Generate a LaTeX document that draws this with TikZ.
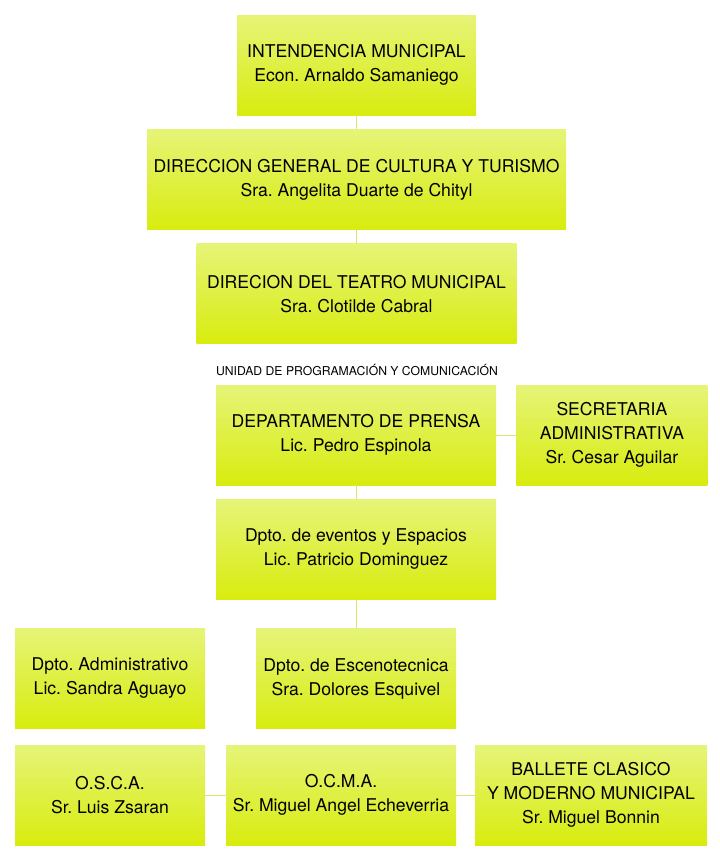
\documentclass[tikz,border=0pt]{standalone}
\usepackage{fontspec}
\setmainfont{TeX Gyre Heros}
\frenchspacing
\usetikzlibrary{positioning}
\definecolor{boxtop}{RGB}{230,244,120}
\definecolor{boxfill}{RGB}{216,236,14}
\definecolor{linkcol}{RGB}{214,232,112}
\tikzstyle{unit}=[rectangle, top color=boxtop, middle color=boxfill, bottom color=boxfill,
  draw=none, minimum height=100pt, inner sep=0pt, align=center,
  font=\fontsize{17.6}{24}\selectfont]
\tikzstyle{link}=[draw=linkcol, line width=1pt]

\begin{document}
\begin{tikzpicture}[x=1pt,y=-1pt]
    \useasboundingbox (0,0) rectangle (720,855);
    \node [unit, minimum width=239pt] (int) at (356.5,65) {INTENDENCIA MUNICIPAL\\Econ. Arnaldo Samaniego};
    \node [unit, minimum width=419pt] (dgct) [below=14pt of int] {DIRECCION GENERAL DE CULTURA Y TURISMO\\Sra. Angelita Duarte de Chityl};
    \node [unit, minimum width=320pt] (teatro) [below=14pt of dgct] {DIRECION DEL TEATRO MUNICIPAL\\Sra. Clotilde Cabral};
    \node [unit, minimum width=280pt] (prensa) at (356,435) {DEPARTAMENTO DE PRENSA\\Lic. Pedro Espinola};
    \node [anchor=base west, inner sep=0pt, font=\fontsize{12.2}{14}\selectfont] (upc) at ([yshift=9pt]prensa.north west) {UNIDAD DE PROGRAMACIÓN Y COMUNICACIÓN};
    \node [unit, minimum width=191pt] (secre) [right=20pt of prensa] {SECRETARIA\\ADMINISTRATIVA\\Sr. Cesar Aguilar};
    \node [unit, minimum width=280pt] (eventos) [below=14pt of prensa] {Dpto. de eventos y Espacios\\Lic. Patricio Dominguez};
    \node [unit, minimum width=200pt] (esceno) [below=29pt of eventos] {Dpto. de Escenotecnica\\Sra. Dolores Esquivel};
    \node [unit, minimum width=190pt] (admin) at (110,678) {Dpto. Administrativo\\Lic. Sandra Aguayo};
    \node [unit, minimum width=190pt] (osca) at (110,795) {O.S.C.A.\\Sr. Luis Zsaran};
    \node [unit, minimum width=230pt] (ocma) at (341,795) {O.C.M.A.\\Sr. Miguel Angel Echeverria};
    \node [unit, minimum width=232pt] (ballet) at (591,795) {BALLETE CLASICO\\Y MODERNO MUNICIPAL\\Sr. Miguel Bonnin};
    \path[link] (int) edge (dgct);
    \path[link] (dgct) edge (teatro);
    \path[link] (prensa) edge (secre);
    \path[link] (prensa) edge (eventos);
    \path[link] (eventos) edge (esceno);
    \path[link] (osca) edge (ocma);
    \path[link] (ocma) edge (ballet);
\end{tikzpicture}
\end{document}
